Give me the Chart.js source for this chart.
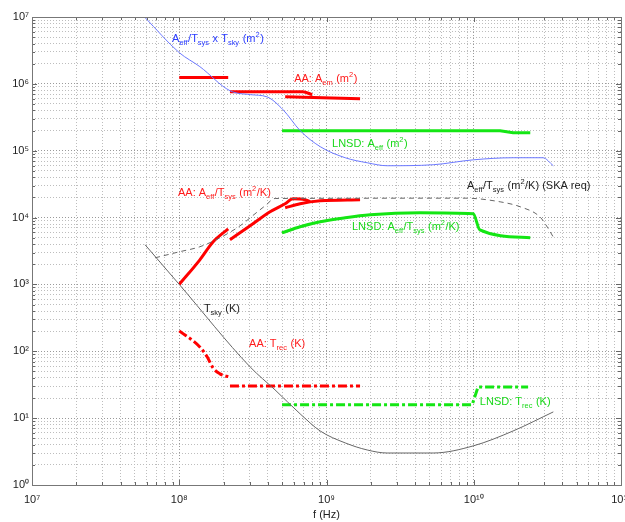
<!DOCTYPE html>
<html>
<head>
<meta charset="utf-8">
<script src="https://cdn.jsdelivr.net/npm/chart.js@4.4.1/dist/chart.umd.min.js"></script>
<style>
  body { margin: 0; background: #fff; }
  canvas { display: block; }
</style>
</head>
<body>
<canvas id="skaChart" width="625" height="522"></canvas>
<script>
// Axis decades (exponents) and minor multipliers
const xDecades = [7, 8, 9, 10, 11];
const yDecades = [0, 1, 2, 3, 4, 5, 6, 7];
const minorSteps = [1, 2, 3, 4, 5, 6, 7, 8, 9];
const supDigits = ['⁰', '¹', '²', '³', '⁴', '⁵', '⁶', '⁷', '⁸', '⁹'];

// Aeff/Tsys x Tsky (m^2), thin blue
const skyAreaF = [5.86e7, 1e8, 1.38e8, 2.21e8, 3.03e8, 3.94e8, 5.07e8, 6.62e8, 9.06e8, 1.34e9, 1.89e9, 2.58e9, 5.3e9, 9.9e9, 1.85e10, 2.95e10, 3.47e10];
const skyAreaV = [9.8e6, 2.93e6, 1.81e6, 7.9e5, 6.9e5, 6.4e5, 4.1e5, 2.0e5, 1.15e5, 7.85e4, 6.6e4, 5.96e4, 6.17e4, 7.3e4, 7.85e4, 7.85e4, 5.96e4];

// AA: Aem (m^2), three thick red pieces
const aaAemF1 = [1e8, 2.15e8];
const aaAemV1 = [1.24e6, 1.24e6];
const aaAemF2 = [2.21e8, 6.9e8, 8.0e8];
const aaAemV2 = [7.6e5, 7.6e5, 6.9e5];
const aaAemF3 = [5.24e8, 1.69e9];
const aaAemV3 = [6.4e5, 6.0e5];

// LNSD: Aeff (m^2)
const lnsdAeffF = [4.99e8, 1.51e10, 1.85e10, 2.42e10];
const lnsdAeffV = [1.99e5, 1.99e5, 1.86e5, 1.86e5];

// Aeff/Tsys (m^2/K) SKA requirement, grey dashed
const skaReqF = [6.85e7, 1e8, 1.38e8, 1.89e8, 2.59e8, 3.27e8, 3.83e8, 4.48e8, 8.75e9, 1.51e10, 2.07e10, 2.82e10, 3.16e10, 3.47e10];
const skaReqV = [2500, 3075, 3660, 4990, 7540, 1.14e4, 1.5e4, 1.93e4, 1.95e4, 1.72e4, 1.45e4, 1.02e4, 7200, 5100];

// AA: Aeff/Tsys (m^2/K), three red pieces
const aaSensF1 = [1e8, 1.38e8, 1.7e8, 2.15e8];
const aaSensV1 = [1000, 2335, 4345, 6790];
const aaSensF2 = [2.21e8, 3.03e8, 4.14e8, 5.24e8, 5.93e8, 7.16e8, 7.74e8];
const aaSensV2 = [4660, 7540, 1.22e4, 1.61e4, 1.91e4, 1.85e4, 1.73e4];
const aaSensF3 = [5.24e8, 6.62e8, 9.06e8, 1.69e9];
const aaSensV3 = [1.4e4, 1.61e4, 1.78e4, 1.85e4];

// LNSD: Aeff/Tsys (m^2/K)
const lnsdSensF = [4.99e8, 6.62e8, 9.06e8, 1.34e9, 1.98e9, 4.32e9, 9.91e9, 1.1e10, 2.42e10];
const lnsdSensV = [5920, 7280, 8650, 9930, 1.1e4, 1.18e4, 1.14e4, 6560, 4990];

// Tsky (K)
const tskyF = [5.86e7, 1e8, 3.03e8, 4.47e8, 6.62e8, 9.06e8, 1.34e9, 1.89e9, 2.58e9, 5.3e9, 9.9e9, 1.85e10, 3.47e10];
const tskyV = [3920, 1000, 58.3, 26.5, 11.6, 6.43, 4.26, 3.34, 3.01, 3.01, 3.84, 6.43, 12.4];

// AA: Trec (K)
const aaTrecF1 = [1e8, 1.38e8, 1.55e8, 1.7e8, 1.89e8, 2.21e8];
const aaTrecV1 = [202, 116, 82, 56, 46, 41];
const aaTrecF2 = [2.21e8, 1.69e9];
const aaTrecV2 = [30.3, 30.3];

// LNSD: Trec (K)
const lnsdTrecF = [4.99e8, 9.75e9, 1.07e10, 2.34e10];
const lnsdTrecV = [15.8, 15.8, 29.3, 29.3];

// Curve labels: markup text, anchor f, anchor value, colour
const labelTexts = [
    'A_{eff}/T_{sys} x T_{sky} (m^{2})',
    'AA: A_{em} (m^{2})',
    'LNSD: A_{eff} (m^{2})',
    'AA: A_{eff}/T_{sys} (m^{2}/K)',
    'A_{eff}/T_{sys} (m^{2}/K) (SKA req)',
    'LNSD: A_{eff}/T_{sys} (m^{2}/K)',
    'T_{sky} (K)',
    'AA: T_{rec} (K)',
    'LNSD: T_{rec} (K)'
];
const labelF = [8.94e7, 6.03e8, 1.09e9, 9.8e7, 9.0e9, 1.49e9, 1.47e8, 2.98e8, 1.1e10];
const labelV = [4.28e6, 1.08e6, 1.15e5, 2.12e4, 2.7e4, 6.56e3, 389, 116, 15.8];
const labelColors = ['#2a3cff', '#ff1a1a', '#19d819', '#ff1a1a', '#222222', '#19d819', '#222222', '#ff1a1a', '#19d819'];

const RED = '#ff0000';
const GREEN = '#14e614';
const BLUE = '#6b78ff';
const GREY = '#666666';

function pts(fs, vs) {
    return fs.map((f, i) => ({ x: f, y: vs[i] }));
}

function series(fs, vs, color, width, extra) {
    return Object.assign({
        data: pts(fs, vs),
        borderColor: color,
        backgroundColor: color,
        borderWidth: width,
        pointRadius: 0,
        fill: false,
        tension: 0
    }, extra || {});
}

const smooth = { cubicInterpolationMode: 'monotone' };
const dashDot = { borderDash: [9, 3, 3, 3] };

function decadeTicks(decades) {
    const ticks = [];
    decades.forEach((e, i) => {
        if (i === decades.length - 1) {
            ticks.push({ value: Math.pow(10, e) });
            return;
        }
        minorSteps.forEach(m => ticks.push({ value: m * Math.pow(10, e) }));
    });
    return ticks;
}

function decadeLabel(value) {
    const e = Math.round(Math.log10(value));
    if (Math.abs(value - Math.pow(10, e)) > 1e-6 * value) return '';
    return '10' + String(e).split('').map(d => supDigits[+d]).join('');
}

function isDecade(value) {
    return decadeLabel(value) !== '';
}

// draws "A_{eff}/T_{sys} (m^{2})" style text
function drawRich(ctx, text, x, y, size) {
    const parts = [];
    let i = 0, buf = '';
    while (i < text.length) {
        const c = text[i];
        if ((c === '_' || c === '^') && text[i + 1] === '{') {
            if (buf) parts.push({ t: buf, k: 0 });
            buf = '';
            const end = text.indexOf('}', i);
            parts.push({ t: text.slice(i + 2, end), k: c === '_' ? -1 : 1 });
            i = end + 1;
        } else {
            buf += c;
            i++;
        }
    }
    if (buf) parts.push({ t: buf, k: 0 });
    let cx = x;
    parts.forEach(p => {
        const s = p.k === 0 ? size : size * 0.68;
        ctx.font = s + 'px "Liberation Sans", Arial, sans-serif';
        const dy = p.k === -1 ? 3.5 : (p.k === 1 ? -5 : 0);
        ctx.fillText(p.t, cx, y + dy);
        cx += ctx.measureText(p.t).width + (p.k !== 0 ? 0.5 : 0);
    });
}

const frameAndLabels = {
    id: 'frameAndLabels',
    afterDatasetsDraw(chart) {
        const { ctx, chartArea: a, scales } = chart;
        ctx.save();
        // inward tick marks
        ctx.strokeStyle = '#666';
        ctx.lineWidth = 1;
        ctx.beginPath();
        scales.x.ticks.forEach(t => {
            const px = Math.round(scales.x.getPixelForValue(t.value)) + 0.5;
            const len = isDecade(t.value) ? 5 : 3;
            ctx.moveTo(px, a.bottom); ctx.lineTo(px, a.bottom - len);
            ctx.moveTo(px, a.top); ctx.lineTo(px, a.top + len);
        });
        scales.y.ticks.forEach(t => {
            const py = Math.round(scales.y.getPixelForValue(t.value)) + 0.5;
            const len = isDecade(t.value) ? 5 : 3;
            ctx.moveTo(a.left, py); ctx.lineTo(a.left + len, py);
            ctx.moveTo(a.right, py); ctx.lineTo(a.right - len, py);
        });
        ctx.stroke();
        // frame
        ctx.strokeStyle = '#777';
        ctx.strokeRect(Math.round(a.left) + 0.5, Math.round(a.top) + 0.5,
            Math.round(a.right - a.left), Math.round(a.bottom - a.top));
        // curve labels
        ctx.textBaseline = 'alphabetic';
        ctx.textAlign = 'left';
        labelTexts.forEach((txt, i) => {
            ctx.fillStyle = labelColors[i];
            drawRich(ctx, txt, scales.x.getPixelForValue(labelF[i]),
                scales.y.getPixelForValue(labelV[i]), 11);
        });
        ctx.restore();
    }
};

Chart.defaults.font.family = '"Liberation Sans", Arial, sans-serif';
Chart.defaults.font.size = 11;
Chart.defaults.color = '#222';

const gridColor = ctx => (ctx.tick && isDecade(ctx.tick.value)) ? '#9a9a9a' : '#bdbdbd';

const skaChart = new Chart(document.getElementById('skaChart'), {
    type: 'line',
    data: {
        datasets: [
            series(skyAreaF, skyAreaV, BLUE, 1, smooth),
            series(skaReqF, skaReqV, GREY, 1, Object.assign({ borderDash: [5, 4] }, smooth)),
            series(tskyF, tskyV, GREY, 1, smooth),
            series(aaAemF1, aaAemV1, RED, 3),
            series(aaAemF2, aaAemV2, RED, 3, smooth),
            series(aaAemF3, aaAemV3, RED, 3),
            series(lnsdAeffF, lnsdAeffV, GREEN, 3),
            series(aaSensF1, aaSensV1, RED, 3, smooth),
            series(aaSensF2, aaSensV2, RED, 3, smooth),
            series(aaSensF3, aaSensV3, RED, 3, smooth),
            series(lnsdSensF, lnsdSensV, GREEN, 3, smooth),
            series(aaTrecF1, aaTrecV1, RED, 3, Object.assign({}, dashDot, smooth)),
            series(aaTrecF2, aaTrecV2, RED, 3, dashDot),
            series(lnsdTrecF, lnsdTrecV, GREEN, 3, dashDot)
        ]
    },
    options: {
        responsive: false,
        devicePixelRatio: 1,
        animation: false,
        layout: { padding: { top: 17, right: 4, left: 0, bottom: 0 } },
        plugins: {
            legend: { display: false },
            tooltip: { enabled: false }
        },
        scales: {
            x: {
                type: 'logarithmic',
                min: 1e7,
                max: 1e11,
                afterBuildTicks: scale => { scale.ticks = decadeTicks(xDecades); },
                afterFit: scale => {
                    scale.height = 37;
                    scale.paddingLeft = 0;
                    scale.paddingRight = 0;
                },
                grid: { color: gridColor, drawTicks: false },
                border: { display: false, dash: [1, 2] },
                ticks: {
                    autoSkip: false,
                    maxRotation: 0,
                    padding: 8,
                    color: '#222',
                    callback: v => decadeLabel(v)
                },
                title: {
                    display: true,
                    text: 'f (Hz)',
                    color: '#222',
                    padding: { top: 0, bottom: 0 },
                    font: { size: 11 }
                }
            },
            y: {
                type: 'logarithmic',
                min: 1,
                max: 1e7,
                afterBuildTicks: scale => { scale.ticks = decadeTicks(yDecades); },
                afterFit: scale => {
                    scale.width = 32;
                    scale.paddingTop = 0;
                    scale.paddingBottom = 0;
                },
                grid: { color: gridColor, drawTicks: false },
                border: { display: false, dash: [1, 2] },
                ticks: {
                    autoSkip: false,
                    padding: 3,
                    color: '#222',
                    callback: v => decadeLabel(v)
                }
            }
        }
    },
    plugins: [frameAndLabels]
});
</script>
</body>
</html>
